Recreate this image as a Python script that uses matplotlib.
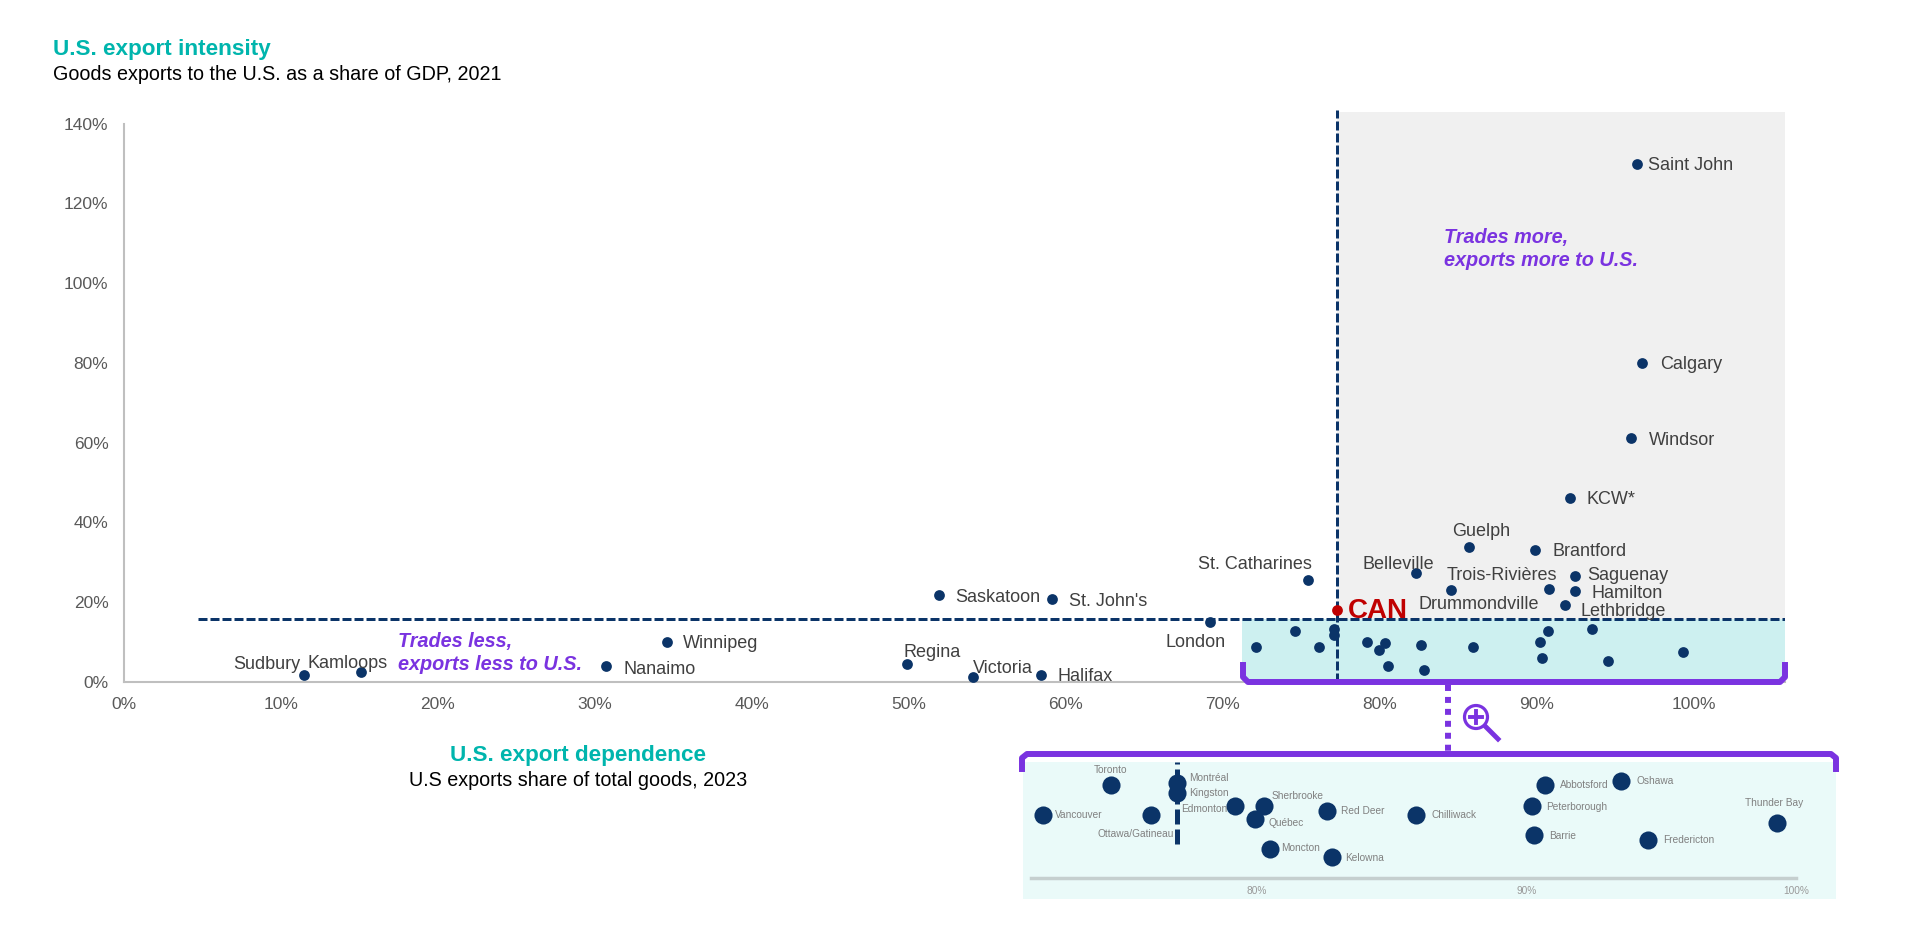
import matplotlib
matplotlib.use('Agg')
import matplotlib.pyplot as plt
from matplotlib.patches import Rectangle, Circle
from matplotlib.ticker import FuncFormatter

plt.rcParams['font.family'] = ['Liberation Sans', 'DejaVu Sans']

# cities outside the zoomed box
cities = ['Saint John', 'Calgary', 'Windsor', 'KCW*', 'Guelph', 'Brantford', 'Belleville',
          'St. Catharines', 'Saguenay', 'Trois-Rivières', 'Hamilton', 'Drummondville',
          'Lethbridge', 'Saskatoon', "St. John's", 'London', 'Winnipeg', 'Nanaimo',
          'Sudbury', 'Kamloops', 'Regina', 'Victoria', 'Halifax']
dependence = [96.4, 96.7, 96.0, 92.1, 85.7, 89.9, 82.3, 75.4, 92.4, 84.5, 92.4, 90.8,
              91.8, 51.9, 59.1, 69.2, 34.6, 30.7, 11.5, 15.1, 49.9, 54.1, 58.4]
intensity = [129.9, 80.1, 61.1, 46.1, 33.8, 33.2, 27.3, 25.5, 26.7, 23.0, 22.7, 23.3,
             19.3, 21.8, 20.9, 15.0, 10.1, 4.0, 1.8, 2.5, 4.6, 1.2, 1.8]

# cities in the zoomed box
zoom_cities = ['Vancouver', 'Toronto', 'Ottawa/Gatineau', 'Montréal', 'Kingston', 'Edmonton',
               'Sherbrooke', 'Québec', 'Moncton', 'Red Deer', 'Kelowna', 'Chilliwack',
               'Abbotsford', 'Peterborough', 'Barrie', 'Oshawa', 'Fredericton', 'Thunder Bay']
zoom_dependence = [72.1, 74.6, 76.1, 77.06, 77.06, 79.2, 80.3, 79.96, 80.5, 82.6, 82.8, 85.9,
                   90.7, 90.2, 90.3, 93.5, 94.5, 99.3]
zoom_intensity = [8.7, 12.9, 8.7, 13.2, 11.8, 10.0, 9.9, 8.1, 4.0, 9.3, 2.9, 8.7,
                  12.8, 10.0, 6.0, 13.4, 5.3, 7.6]

can_dependence = 77.25
can_intensity = 18.1
avg_intensity = 15.7

x_ticks = [0, 10, 20, 30, 40, 50, 60, 70, 80, 90, 100]
y_ticks = [0, 20, 40, 60, 80, 100, 120, 140]
zoom_ticks = [80, 90, 100]

# label offsets in pixels from the dot (left edge of the text)
label_off = [(11, -2), (18, -2), (18, -2), (17, -1), (-17, 16), (17, -2), (-53, 9),
             (-110, 16), (13, 0), (-4, 15), (17, -2), (-131, -15),
             (15, -6), (17, -2), (17, -3), (-45, -20), (16, -2), (18, -3),
             (-71, 10), (-53, 9), (-4, 11), (0, 9), (17, -2)]
zoom_off = [(12, 0), (-17, 15), (-54, -19), (12, 5), (12, 0), (-54, -3),
            (7, 10), (13, -4), (11, 1), (14, 0), (13, -1), (16, 0),
            (15, 0), (14, -1), (15, -1), (16, 0), (15, 0), (-32, 20)]

navy = '#0B3468'
purple = '#7A33E0'
teal = '#00B5AD'
W, H = 1920, 950

fig = plt.figure(figsize=(W / 100, H / 100), dpi=100)
ax = fig.add_axes([123.7 / W, 1 - 682 / H, (1785 - 123.7) / W, (682 - 123.7) / H])
ax.set_xlim(0, 105.8)
ax.set_ylim(0, 140)
for s in ['top', 'right']:
    ax.spines[s].set_visible(False)
for s in ['left', 'bottom']:
    ax.spines[s].set_color('#BFBFBF')
    ax.spines[s].set_linewidth(1.5)
ax.set_xticks(x_ticks)
ax.set_yticks(y_ticks)
ax.xaxis.set_major_formatter(FuncFormatter(lambda v, p: f'{v:.0f}%'))
ax.yaxis.set_major_formatter(FuncFormatter(lambda v, p: f'{v:.0f}%'))
ax.tick_params(length=0, labelsize=12.5, labelcolor='#595959', pad=11)
ax.tick_params(axis='y', pad=11)

ax.add_patch(Rectangle((can_dependence, avg_intensity), 105.8 - can_dependence, 143 - avg_intensity,
                       color='#F0F0F0', lw=0, zorder=0, clip_on=False))
ax.add_patch(Rectangle((71.2, 0), 105.8 - 71.2, avg_intensity, color='#CDF0F0', lw=0, zorder=0))
ax.plot([4.7, 105.8], [avg_intensity, avg_intensity], color=navy, lw=2.16, ls=(0, (3, 1)), zorder=1)
ax.plot([can_dependence, can_dependence], [0, 143.5], color=navy, lw=2.16, ls=(0, (3, 1)),
        zorder=1, clip_on=False)

ax.scatter(dependence, intensity, s=60, color=navy, zorder=3, lw=0)
ax.scatter(zoom_dependence, zoom_intensity, s=60, color=navy, zorder=3, lw=0)
ax.scatter([can_dependence], [can_intensity], s=60, color='#C00000', zorder=4, lw=0)

for name, x, y, off in zip(cities, dependence, intensity, label_off):
    ax.annotate(name, (x, y), xytext=off, textcoords='offset pixels', fontsize=13,
                color='#404040', ha='left', va='center', zorder=5)
ax.annotate('CAN', (can_dependence, can_intensity), xytext=(11, -1), textcoords='offset pixels',
            fontsize=20, fontweight='bold', color='#C00000', ha='left', va='center', zorder=5)

# zoomed box
ax2 = fig.add_axes([1022.5 / W, 1 - 899 / H, (1835.5 - 1022.5) / W, (899 - 761.6) / H])
ax2.set_facecolor('#EAFAF9')
ax2.set_xlim(71.34, 101.45)
ax2.set_ylim(-2.9, 16.1)
for s in ['top', 'right', 'left']:
    ax2.spines[s].set_visible(False)
ax2.spines['bottom'].set_position(('data', 0))
ax2.spines['bottom'].set_bounds(71.66, 100)
ax2.spines['bottom'].set_color('#C5CFCF')
ax2.spines['bottom'].set_linewidth(2.5)
ax2.set_yticks([])
ax2.set_xticks(zoom_ticks)
ax2.xaxis.set_major_formatter(FuncFormatter(lambda v, p: f'{v:.0f}%'))
ax2.tick_params(length=0, labelsize=7.3, labelcolor='#999999', pad=6)
ax2.plot([77.07, 77.07], [4.7, 16.07], color=navy, lw=3.6, ls=(0, (3, 1)), zorder=1)
ax2.scatter(zoom_dependence, zoom_intensity, s=170, color=navy, zorder=3, lw=0)
for name, x, y, off in zip(zoom_cities, zoom_dependence, zoom_intensity, zoom_off):
    ax2.annotate(name, (x, y), xytext=off, textcoords='offset pixels', fontsize=7.3,
                 color='#808080', ha='left', va='center', zorder=5)

# overlay in pixel coordinates for titles, brackets and the magnifier
ov = fig.add_axes([0, 0, 1, 1], facecolor='none')
ov.set_xlim(0, W)
ov.set_ylim(H, 0)
ov.axis('off')

ov.text(53, 50, 'U.S. export intensity', fontsize=16.2, fontweight='bold', color=teal, va='center')
ov.text(53, 75, 'Goods exports to the U.S. as a share of GDP, 2021', fontsize=14.25, color='black', va='center')
ov.text(578, 756, 'U.S. export dependence', fontsize=16.2, fontweight='bold', color=teal, va='center', ha='center')
ov.text(578, 781, 'U.S exports share of total goods, 2023', fontsize=14.25, color='black', va='center', ha='center')
ov.text(1444, 237, 'Trades more,', fontsize=14.3, fontweight='bold', style='italic', color=purple, va='center')
ov.text(1444, 261, 'exports more to U.S.', fontsize=14.3, fontweight='bold', style='italic', color=purple, va='center')
ov.text(398, 642, 'Trades less,', fontsize=14.3, fontweight='bold', style='italic', color=purple, va='center')
ov.text(398, 665, 'exports less to U.S.', fontsize=14.3, fontweight='bold', style='italic', color=purple, va='center')

ov.plot([1243, 1243, 1248, 1780, 1785, 1785], [665, 677, 682, 682, 677, 665], color=purple,
        lw=4.3, solid_joinstyle='round')
ov.plot([1022, 1022, 1027, 1831, 1836, 1836], [769, 758, 754, 754, 758, 769], color=purple,
        lw=4.3, solid_joinstyle='round')
ov.plot([1448, 1448], [685, 751], color=purple, lw=4.3, ls=(0, (1, 1)))

ov.add_patch(Circle((1476, 717), 11.5, fill=False, ec=purple, lw=2.3))
ov.plot([1470, 1482], [717, 717], color=purple, lw=2.8)
ov.plot([1476, 1476], [711, 723], color=purple, lw=2.8)
ov.plot([1486, 1498], [727, 739], color=purple, lw=3.5)

fig.savefig('out.png', dpi=100)
